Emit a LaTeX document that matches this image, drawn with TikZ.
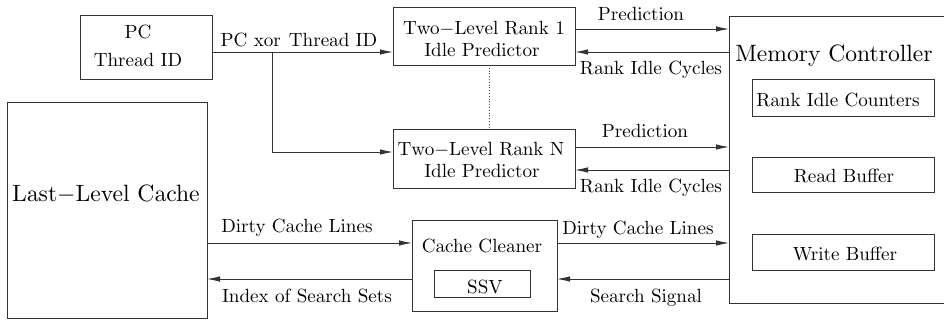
\documentclass[tikz,border=0pt]{standalone}
\usetikzlibrary{arrows.meta}
% text faces: cmr10 scaled up keeps the weight of a small design size
\font\lblfont=cmr10 at 19.1pt
\font\lblsym=cmsy10 at 19.1pt
\font\bigfont=cmr10 at 23.6pt
\font\bigsym=cmsy10 at 23.6pt
\newcommand{\lblminus}{{\lblsym\char0}}
\newcommand{\bigminus}{{\bigsym\char0}}

\begin{document}
\begin{tikzpicture}[x=1pt,y=-1pt,
  line width=0.9pt,
  every node/.style={inner sep=0pt, outer sep=0pt},
  box/.style={draw=black!80, line width=0.9pt, rectangle},
  txt/.style={anchor=base, font=\lblfont},
  bigtxt/.style={anchor=base, font=\bigfont},
  arr/.style={draw=black!80, -{Latex[length=13pt,width=5.5pt]}},
  wire/.style={draw=black!80}
]
\useasboundingbox (0,0) rectangle (944,320);

% boxes (centre, width, height)
\node[box, minimum width=132pt, minimum height=64pt] (pc)     at (146,47) {};
\node[box, minimum width=200pt, minimum height=216pt] (llc)   at (107,210) {};
\node[box, minimum width=182pt, minimum height=58pt] (rank1)  at (484,36) {};
\node[box, minimum width=182pt, minimum height=59pt] (rankN)  at (484,158.5) {};
\node[box, minimum width=145pt, minimum height=91pt] (cc)     at (484.5,265.5) {};
\node[box, minimum width=96pt, minimum height=27pt] (ssv)     at (482,283.5) {};
\node[minimum width=220pt, minimum height=287pt] (mc)         at (839,159.5) {};
\node[box, minimum width=182pt, minimum height=37pt] (ric)    at (843,97.5) {};
\node[box, minimum width=182pt, minimum height=35pt] (rbuf)   at (843,174.5) {};
\node[box, minimum width=182pt, minimum height=36pt] (wbuf)   at (843,252) {};

% memory controller frame, open on the right
\draw[wire] (mc.north east) -- (mc.north west) -- (mc.south west) -- (mc.south east);

% texts
\node[txt] (tpc)  at (138,39) {PC};
\node[txt] (ttid) at (138,67) {Thread ID};
\node[bigtxt] (tllc) at (106,202) {Last\bigminus Level Cache};
\node[txt] (tr1a) at (484,35) {Two\lblminus Level Rank 1};
\node[txt] (tr1b) at (482,57) {Idle Predictor};
\node[txt] (trna) at (481,156) {Two\lblminus Level Rank N};
\node[txt] (trnb) at (482,178) {Idle Predictor};
\node[txt] (tcc)  at (482,252) {Cache Cleaner};
\node[txt] (tssv) at (485,293) {SSV};
\node[bigtxt] (tmc) at (834,62) {Memory Controller};
\node[txt] (tric) at (838,107) {Rank Idle Counters};
\node[txt] (trb)  at (844,183) {Read Buffer};
\node[txt] (twb)  at (845,260) {Write Buffer};

% connector levels
\coordinate (y29)  at (0,29);
\coordinate (y52)  at (0,52);
\coordinate (y147) at (0,147);
\coordinate (y152) at (0,152);
\coordinate (y170) at (0,170);
\coordinate (y243) at (0,243);
\coordinate (y279) at (0,279);
\coordinate (br)   at (272,52);

% PC xor Thread ID to both predictors
\draw[arr] (pc.east |- y52) -- (rank1.west |- y52);
\draw[arr] (br) |- (rankN.west |- y152);
\node[txt] (lxor) at (299,46.5) {PC xor\hspace{8pt}Thread ID};

% predictors <-> memory controller
\draw[arr] (rank1.east |- y29) -- (mc.west |- y29);
\draw[arr] (mc.west |- y52) -- (rank1.east |- y52);
\draw[arr] (rankN.east |- y147) -- (mc.west |- y147);
\draw[arr] (mc.west |- y170) -- (rankN.east |- y170);
\node[txt] (lp1)  at (641,20.5) {Prediction};
\node[txt] (lr1)  at (651,75)   {Rank Idle Cycles};
\node[txt] (lpn)  at (645,138)  {Prediction};
\node[txt] (lrn)  at (651,193)  {Rank Idle Cycles};

% predictors in between
\draw[draw=black!70, line width=0.8pt, dotted] ([xshift=5pt]rank1.south) -- ([xshift=5pt]rankN.north);

% cache cleaner links
\draw[arr] (llc.east |- y243) -- (cc.west |- y243);
\draw[arr] (cc.west |- y279) -- (llc.east |- y279);
\draw[arr] (cc.east |- y243) -- (mc.west |- y243);
\draw[arr] (mc.west |- y279) -- (cc.east |- y279);
\node[txt] (ld1) at (297,233) {Dirty Cache Lines};
\node[txt] (lix) at (307,302) {Index of Search Sets};
\node[txt] (ld2) at (638,234) {Dirty Cache Lines};
\node[txt] (lss) at (646,302) {Search Signal};
\end{tikzpicture}
\end{document}
